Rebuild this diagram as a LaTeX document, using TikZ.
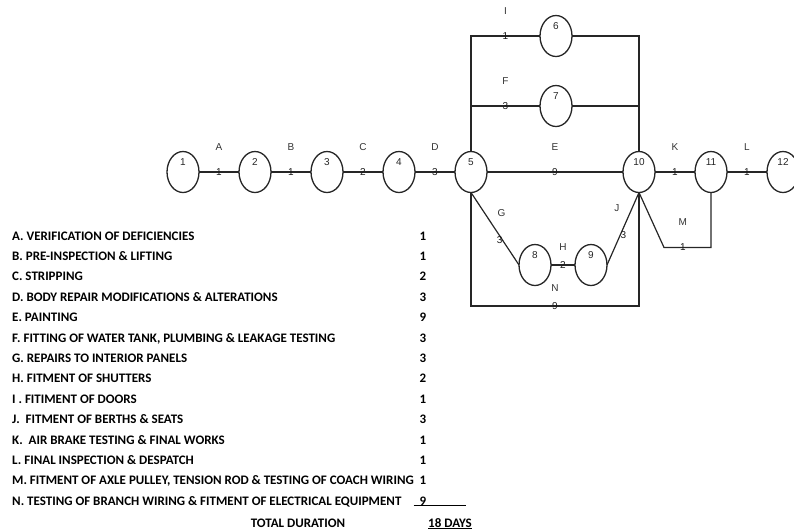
\documentclass[tikz,border=0pt]{standalone}
\usepackage{fontspec}
\setmainfont{Liberation Sans}
\newfontfamily\tabfont{Carlito}
\usetikzlibrary{shapes.geometric, positioning}
\newcommand{\evno}[1]{\raisebox{7pt}[0pt][0pt]{#1}}

\begin{document}
\begin{tikzpicture}[x=1pt, y=-1pt,
  event/.style={ellipse, draw=black!85, line width=1.3pt, minimum width=32pt,
                minimum height=41pt, inner sep=0pt, outer sep=0pt,
                font=\fontsize{10}{10}\selectfont, text=black!85},
  act/.style={draw=black!85, line width=1.2pt},
  lbl/.style={inner sep=0pt, font=\fontsize{10}{10}\selectfont, text=black!80},
  dur/.style={lbl, font=\fontsize{10}{10}\selectfont, text=black!90},
  row/.style={anchor=base west, inner sep=0pt,
              font=\tabfont\bfseries\fontsize{13}{13}\selectfont},
  num/.style={row, anchor=base}
]
\path[use as bounding box] (0,0) rectangle (794,531);

% Events on the main chain
\node[event] (n1) at (183,172) {\evno{1}};
\node[event, right=40pt of n1] (n2) {\evno{2}};
\node[event, right=40pt of n2] (n3) {\evno{3}};
\node[event, right=40pt of n3] (n4) {\evno{4}};
\node[event, right=40pt of n4] (n5) {\evno{5}};
\node[event, right=136pt of n5] (n10) {\evno{10}};
\node[event, right=40pt of n10] (n11) {\evno{11}};
\node[event, right=40pt of n11] (n12) {\evno{12}};

% Parallel branches
\node[event] (n6) at (556,36) {\evno{6}};
\node[event] (n7) at (556,106) {\evno{7}};
\node[event] (n8) at (535,265) {\evno{8}};
\node[event, right=24pt of n8] (n9) {\evno{9}};

% Activities A to D
\draw[act] (n1) -- (n2) node[midway, dur]{1} node[midway, lbl, yshift=25pt]{A};
\draw[act] (n2) -- (n3) node[midway, dur]{1} node[midway, lbl, yshift=25pt]{B};
\draw[act] (n3) -- (n4) node[midway, dur]{2} node[midway, lbl, yshift=25pt]{C};
\draw[act] (n4) -- (n5) node[midway, dur]{3} node[midway, lbl, yshift=25pt]{D};

% I and F over the top
\draw[act] (n5.north) |- (n6.west)
    node[pos=0.75, dur]{1} node[pos=0.75, lbl, yshift=25pt]{I};
\draw[act] (n6.east) -| (n10.north);
\draw[act] (n5.north) |- (n7.west)
    node[pos=0.75, dur]{3} node[pos=0.75, lbl, yshift=25pt]{F};
\draw[act] (n7.east) -| (n10.north);

% E straight through
\draw[act] (n5) -- (n10) node[midway, dur]{9} node[midway, lbl, yshift=25pt]{E};

% G, H, J below
\draw[act] (n5.south) -- (n8.west)
    node[pos=0.66, dur, xshift=-3pt]{3} node[pos=0.28, lbl, xshift=17pt]{G};
\draw[act] (n8) -- (n9) node[midway, dur]{2} node[midway, lbl, yshift=18pt]{H};
\draw[act] (n9.east) -- (n10.south)
    node[pos=0.42, dur, xshift=3pt]{3} node[pos=0.78, lbl, xshift=-15pt]{J};

% N round the bottom
\draw[act] (n5.south) -- ++(0,113.5) -| (n10.south)
    node[pos=0.25, dur]{9} node[pos=0.25, lbl, yshift=18pt]{N};

% K, L and M
\draw[act] (n10) -- (n11) node[midway, dur]{1} node[midway, lbl, yshift=25pt]{K};
\draw[act] (n11) -- (n12) node[midway, dur]{1} node[midway, lbl, yshift=25pt]{L};
\draw[act] (n10.south) -- ++(25,55) -| (n11.south)
    node[pos=0.2, dur]{1} node[pos=0.2, lbl, yshift=25pt]{M};

% Activity list
\foreach \t/\d [count=\i from 0] in {
    A. VERIFICATION OF DEFICIENCIES/1,
    B. PRE-INSPECTION \& LIFTING/1,
    C. STRIPPING/2,
    D. BODY REPAIR MODIFICATIONS \& ALTERATIONS/3,
    E. PAINTING/9,
    {F. FITTING OF WATER TANK, PLUMBING \& LEAKAGE TESTING}/3,
    G. REPAIRS TO INTERIOR PANELS/3,
    H. FITMENT OF SHUTTERS/2,
    I . FITIMENT OF DOORS/1,
    J.\ \ FITMENT OF BERTHS \& SEATS/3,
    K.\ \ AIR BRAKE TESTING \& FINAL WORKS/1,
    L. FINAL INSPECTION \& DESPATCH/1,
    {M. FITMENT OF AXLE PULLEY, TENSION ROD \& TESTING OF COACH WIRING}/1,
    N. TESTING OF BRANCH WIRING \& FITMENT OF ELECTRICAL EQUIPMENT/9}{
  \node[row] (act\i) at (12,240+20.4*\i) {\t};
  \node[num] (dur\i) at (423,240+20.4*\i) {\d};
}
\draw[line width=0.8pt] (dur13.south west) ++(-6,0) coordinate (ul) -- ++(52,0);

% Total
\node[num] (total) at (298,527) {TOTAL DURATION};
\node[num] (days) at (450,527) {\underline{18 DAYS}};
\end{tikzpicture}
\end{document}
